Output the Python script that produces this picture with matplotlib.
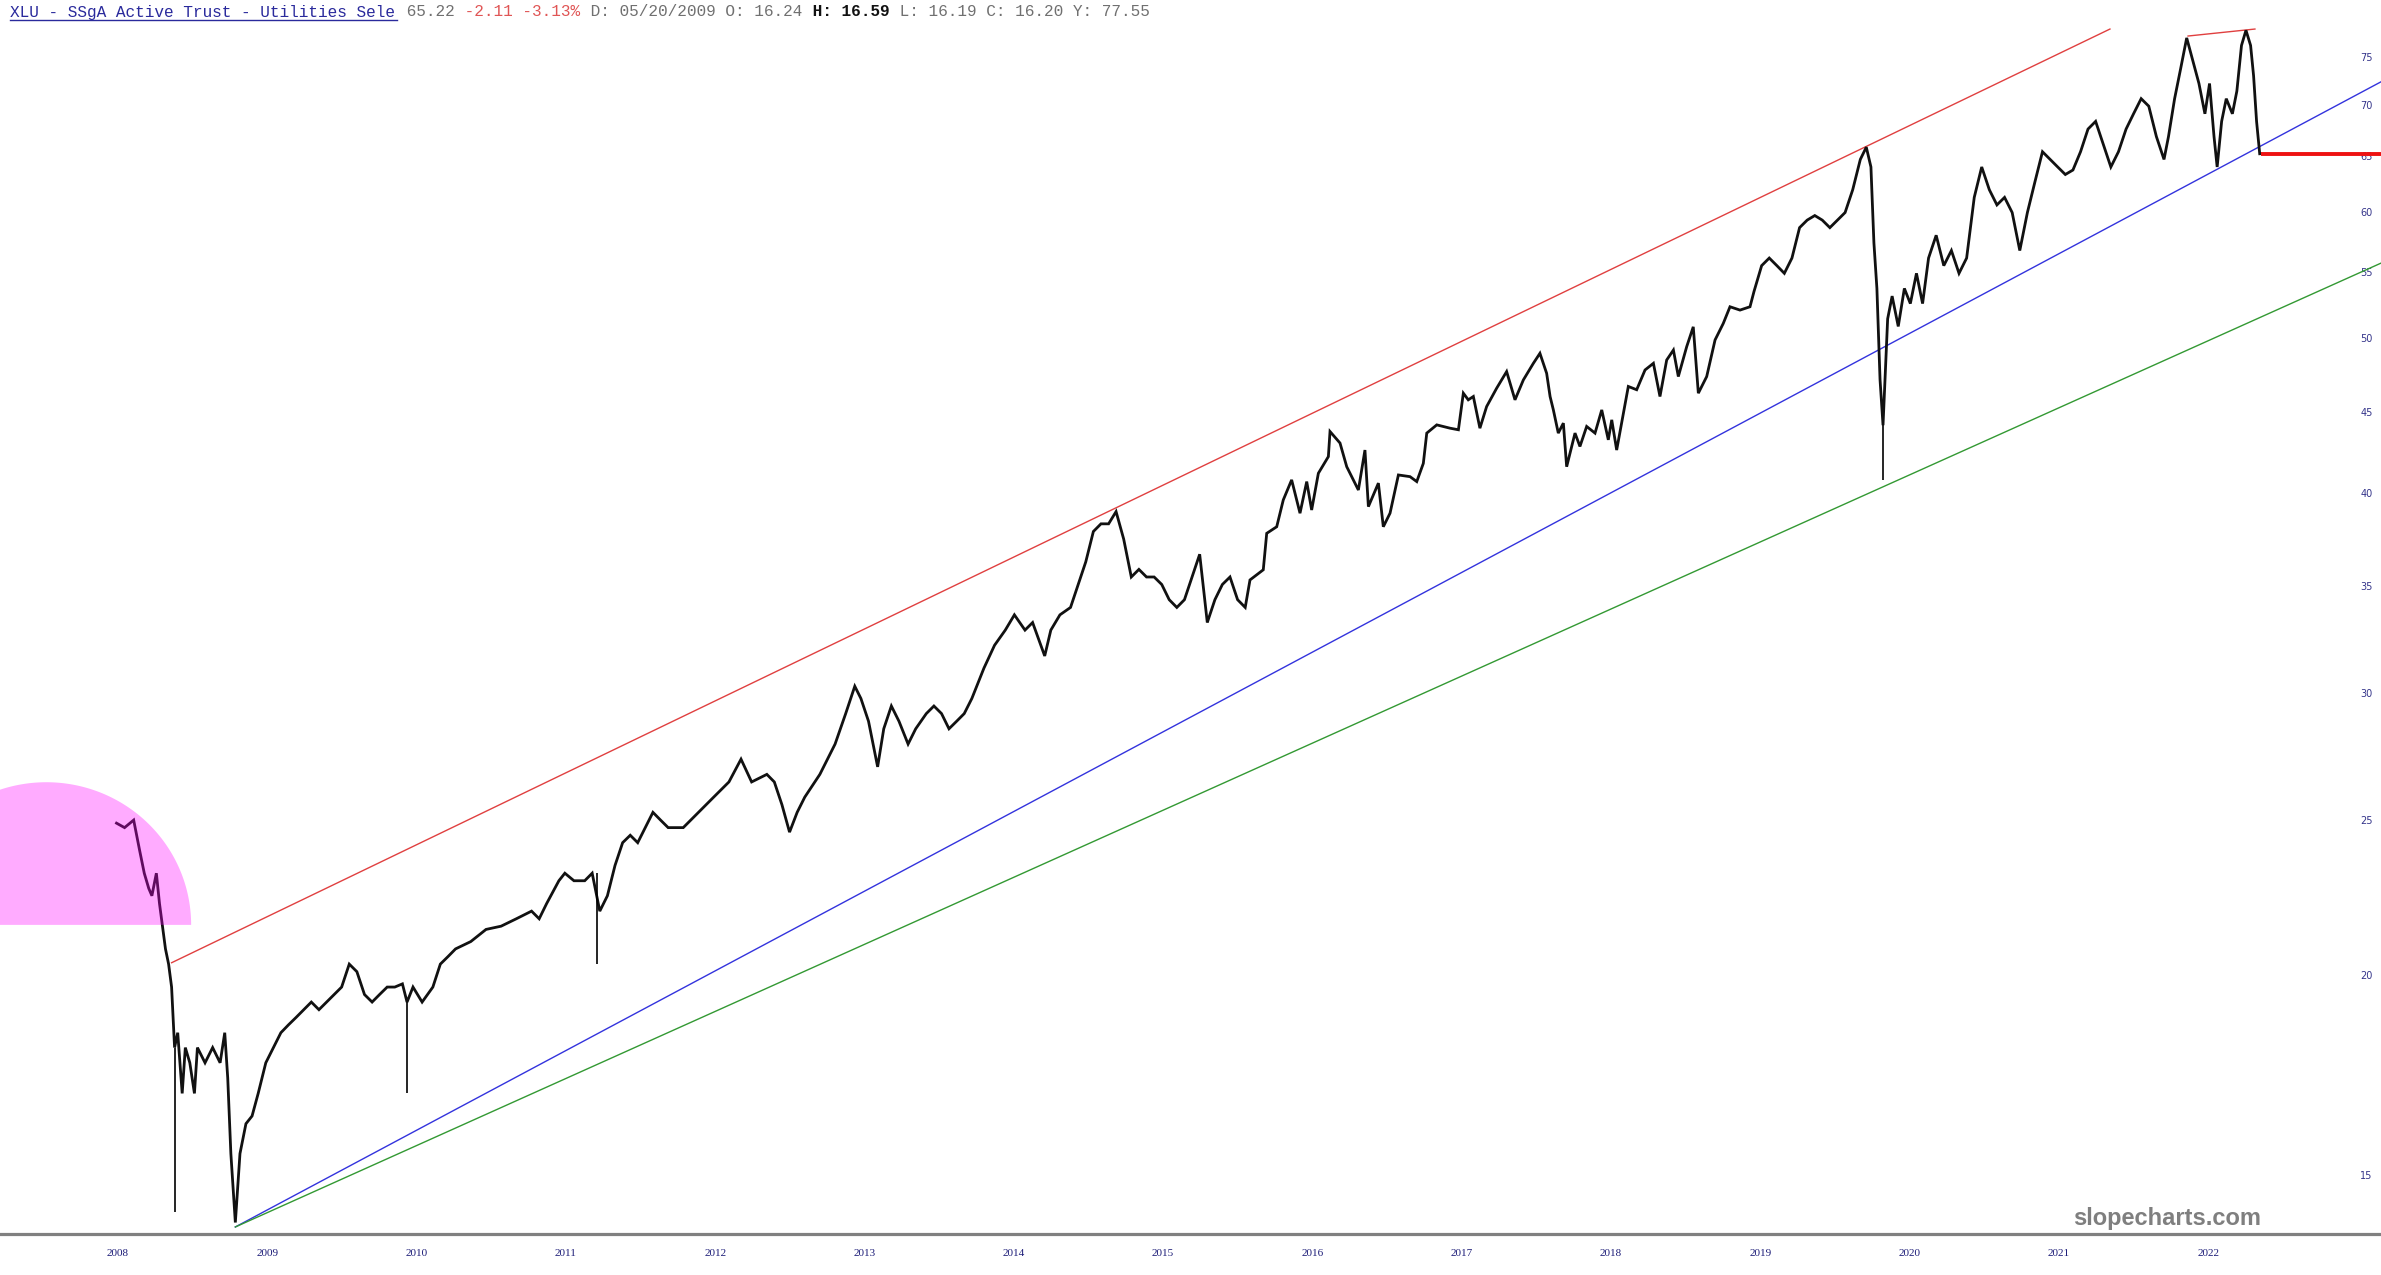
import numpy as np
import matplotlib
matplotlib.use("Agg")
import matplotlib.pyplot as plt
from matplotlib.lines import Line2D

# ---------------- data ----------------
years_2008_2015 = [
    2007.99, 2008.044, 2008.105, 2008.145, 2008.176, 2008.206, 2008.227, 2008.257, 2008.278, 2008.298,
    2008.318, 2008.339, 2008.359, 2008.379, 2008.400, 2008.430, 2008.451, 2008.481, 2008.512, 2008.532,
    2008.583, 2008.634, 2008.684, 2008.715, 2008.735, 2008.756, 2008.786, 2008.817, 2008.857, 2008.898,
    2008.939, 2008.990, 2009.041, 2009.091, 2009.142, 2009.193, 2009.244, 2009.295, 2009.346, 2009.397,
    2009.447, 2009.498, 2009.549, 2009.600, 2009.651, 2009.702, 2009.752, 2009.803, 2009.854, 2009.905,
    2009.936, 2009.976, 2010.037, 2010.109, 2010.159, 2010.210, 2010.261, 2010.363, 2010.465, 2010.566,
    2010.668, 2010.770, 2010.821, 2010.871, 2010.953, 2010.993, 2011.054, 2011.126, 2011.176, 2011.227,
    2011.278, 2011.329, 2011.380, 2011.431, 2011.481, 2011.532, 2011.583, 2011.634, 2011.685, 2011.736,
    2011.786, 2011.888, 2011.990, 2012.092, 2012.173, 2012.244, 2012.346, 2012.396, 2012.447, 2012.498,
    2012.549, 2012.600, 2012.701, 2012.803, 2012.874, 2012.935, 2012.976, 2013.027, 2013.088, 2013.129,
    2013.180, 2013.231, 2013.292, 2013.343, 2013.414, 2013.465, 2013.516, 2013.566, 2013.617, 2013.668,
    2013.719, 2013.800, 2013.871, 2013.943, 2014.004, 2014.075, 2014.126, 2014.207, 2014.248, 2014.309,
    2014.380, 2014.431, 2014.482, 2014.533, 2014.584, 2014.635, 2014.685, 2014.736, 2014.787, 2014.838,
    2014.889, 2014.940, 2014.991, 2015.041, 2015.092, 2015.143, 2015.194, 2015.245, 2015.296, 2015.347,
    2015.397, 2015.448, 2015.499, 2015.550,
]
prices_2008_2015 = [
    24.89, 24.73, 25.00, 23.93, 23.16, 22.66, 22.42, 23.16, 22.17, 21.46,
    20.77, 20.32, 19.66, 18.02, 18.41, 16.87, 18.02, 17.63, 16.87, 18.02,
    17.63, 18.02, 17.63, 18.41, 17.25, 15.47, 14.01, 15.47, 16.15, 16.33,
    16.87, 17.63, 18.02, 18.41, 18.62, 18.82, 19.03, 19.24, 19.03, 19.24,
    19.45, 19.66, 20.32, 20.10, 19.45, 19.24, 19.45, 19.66, 19.66, 19.75,
    19.24, 19.66, 19.24, 19.66, 20.32, 20.54, 20.77, 20.99, 21.36, 21.46,
    21.69, 21.93, 21.69, 22.17, 22.91, 23.16, 22.91, 22.91, 23.16, 21.93,
    22.42, 23.42, 24.20, 24.46, 24.20, 24.73, 25.28, 25.00, 24.73, 24.73,
    24.73, 25.28, 25.84, 26.41, 27.29, 26.41, 26.70, 26.41, 25.56, 24.57,
    25.28, 25.84, 26.70, 27.89, 29.14, 30.31, 29.78, 28.82, 26.99, 28.51,
    29.46, 28.82, 27.89, 28.51, 29.14, 29.46, 29.14, 28.51, 28.82, 29.14,
    29.78, 31.11, 32.15, 32.86, 33.59, 32.86, 33.22, 31.66, 32.86, 33.59,
    33.95, 35.09, 36.25, 37.87, 38.29, 38.29, 38.97, 37.46, 35.47, 35.86,
    35.47, 35.47, 35.09, 34.33, 33.95, 34.33, 35.47, 36.65, 33.22, 34.33,
    35.09, 35.47, 34.33, 33.95,
]
years_2015_2018 = [
    2015.582, 2015.671, 2015.694, 2015.761, 2015.805, 2015.861, 2015.917, 2015.962, 2015.995, 2016.040,
    2016.107, 2016.118, 2016.185, 2016.230, 2016.308, 2016.352, 2016.375, 2016.442, 2016.475, 2016.520,
    2016.576, 2016.654, 2016.699, 2016.743, 2016.766, 2016.833, 2016.922, 2016.978, 2017.011, 2017.044,
    2017.078, 2017.122, 2017.167, 2017.234, 2017.301, 2017.357, 2017.413, 2017.480, 2017.524, 2017.569,
    2017.592, 2017.614, 2017.647, 2017.681, 2017.703, 2017.759, 2017.792, 2017.837, 2017.893, 2017.938,
    2017.982, 2018.005, 2018.038, 2018.083, 2018.116, 2018.172, 2018.228, 2018.284, 2018.328, 2018.373,
    2018.418, 2018.451, 2018.507, 2018.551, 2018.585, 2018.641, 2018.697, 2018.752, 2018.797, 2018.864,
    2018.931, 2018.958,
]
prices_2015_2018 = [
    35.32, 35.84, 37.77, 38.13, 39.63, 40.79, 38.88, 40.69, 39.06, 41.18,
    42.18, 43.73, 43.01, 41.57, 40.20, 42.58, 39.25, 40.60, 38.13, 38.88,
    41.08, 40.98, 40.69, 41.77, 43.63, 44.15, 43.94, 43.84, 46.21, 45.77,
    45.99, 43.94, 45.33, 46.54, 47.67, 45.77, 47.10, 48.24, 48.94, 47.55,
    45.99, 45.11, 43.63, 44.26, 41.57, 43.63, 42.80, 44.05, 43.63, 45.11,
    43.21, 44.47, 42.58, 44.89, 46.66, 46.44, 47.78, 48.24, 45.99, 48.47,
    49.17, 47.33, 49.41, 50.84, 46.21, 47.33, 49.89, 51.09, 52.33, 52.08,
    52.33, 53.50,
]
years_2019_2022 = [
    2019.009, 2019.060, 2019.111, 2019.161, 2019.212, 2019.263, 2019.314, 2019.365, 2019.415,
    2019.466, 2019.517, 2019.568, 2019.619, 2019.670, 2019.710, 2019.741, 2019.761, 2019.781, 2019.802,
    2019.822, 2019.853, 2019.883, 2019.924, 2019.965, 2020.005, 2020.046, 2020.087, 2020.127, 2020.178,
    2020.229, 2020.280, 2020.331, 2020.382, 2020.433, 2020.483, 2020.534, 2020.585, 2020.636, 2020.687,
    2020.738, 2020.789, 2020.839, 2020.890, 2020.941, 2020.992, 2021.043, 2021.094, 2021.145, 2021.195,
    2021.246, 2021.297, 2021.348, 2021.399, 2021.450, 2021.500, 2021.551, 2021.602, 2021.653, 2021.704,
    2021.734, 2021.775, 2021.816, 2021.856, 2021.897, 2021.938, 2021.978, 2022.009, 2022.039, 2022.060,
    2022.090, 2022.121, 2022.162, 2022.192, 2022.223, 2022.253, 2022.284, 2022.304, 2022.324, 2022.345,
]
prices_2019_2022 = [
    55.52, 56.13, 55.52, 54.91, 56.13, 58.64, 59.28, 59.67, 59.28,
    58.64, 59.28, 59.93, 61.93, 64.69, 65.84, 63.99, 57.37, 53.73, 47.12,
    44.13, 51.43, 53.14, 50.87, 53.73, 52.57, 54.91, 52.57, 56.13, 58.00,
    55.52, 56.74, 54.91, 56.13, 61.25, 63.99, 61.93, 60.59, 61.25, 59.93,
    56.74, 59.93, 62.61, 65.41, 64.69, 63.99, 63.30, 63.71, 65.41, 67.58,
    68.33, 66.12, 63.99, 65.41, 67.58, 69.08, 70.60, 69.84, 66.85, 64.69,
    66.85, 70.60, 73.76, 77.05, 74.57, 72.16, 69.08, 72.16, 66.85, 63.99,
    68.33, 70.60, 69.08, 71.38, 76.22, 77.90, 76.22, 72.96, 68.33, 65.22,
]
years = years_2008_2015 + years_2015_2018 + years_2019_2022
prices = prices_2008_2015 + prices_2015_2018 + prices_2019_2022

# single-day wicks (date, low, high)
spike_years = [2008.379, 2009.936, 2011.207, 2019.822]
spike_lows = [14.23, 16.87, 20.32, 40.80]
spike_highs = [18.02, 19.24, 23.16, 44.13]

# trend lines (date, price) pairs
red_years, red_prices = [2008.359, 2021.342], [20.36, 78.04]
red2_years, red2_prices = [2021.865, 2022.313], [77.26, 78.04]
blue_years, blue_prices = [2008.786, 2023.157], [13.92, 72.33]
green_years, green_prices = [2008.786, 2023.157], [13.92, 55.72]
last_price = 65.22
last_year = 2022.354

# highlight semicircle
pink_center_year, pink_base_price = 2007.52, 21.5
pink_right_year, pink_top_price = 2008.49, 26.4

year_ticks = list(range(2008, 2023))
price_ticks = [15, 20, 25, 30, 35, 40, 45, 50, 55, 60, 65, 70, 75]

# ---------------- figure ----------------
W, H = 2381, 1275
fig = plt.figure(figsize=(W / 100, H / 100), dpi=100)
fig.patch.set_facecolor("white")
ax = fig.add_axes([0, 41 / H, 1, (1234 - 27) / H])
ax.set_facecolor("white")
ax.set_yscale("log")
ax.set_xlim(2007.2097, 2023.1574)
ax.set_ylim(13.78, 78.27)

# price
ax.plot(years, prices, color="#111111", lw=2.0, solid_joinstyle="miter", zorder=3)
ax.vlines(spike_years, spike_lows, spike_highs, color="black", lw=1.2, zorder=3)

# trend lines
ax.plot(red_years, red_prices, color="#e04040", lw=1.0, zorder=2)
ax.plot(red2_years, red2_prices, color="#e04040", lw=1.0, zorder=2)
ax.plot(blue_years, blue_prices, color="#3333dd", lw=1.0, zorder=2)
ax.plot(green_years, green_prices, color="#339933", lw=1.0, zorder=2)
ax.plot([last_year, 2023.2], [last_price, last_price], color="#ee1111", lw=2.8,
        zorder=4, solid_capstyle="butt")

# pink semicircle (circle on screen: ellipse in year / log-price space)
theta = np.linspace(0, np.pi, 200)
lc, lt = np.log10(pink_base_price), np.log10(pink_top_price)
px = pink_center_year + (pink_right_year - pink_center_year) * np.cos(theta)
py = 10 ** (lc + (lt - lc) * np.sin(theta))
ax.fill(px, py, color="#ff00ff", alpha=0.33, lw=0, zorder=5)

# axes styling
for s in ["top", "left", "right"]:
    ax.spines[s].set_visible(False)
ax.spines["bottom"].set_color("#808080")
ax.spines["bottom"].set_linewidth(2.3)

ax.set_xticks(year_ticks)
ax.set_xticklabels([str(y) for y in year_ticks], family="Liberation Serif",
                   fontsize=8, color="#1c1c78")
ax.tick_params(axis="x", length=0, pad=11)

ax.yaxis.set_minor_locator(matplotlib.ticker.NullLocator())
ax.set_yticks(price_ticks)
ax.set_yticklabels([str(p) for p in price_ticks], family="DejaVu Sans",
                   fontsize=7, color="#34348a")
ax.yaxis.tick_right()
ax.tick_params(axis="y", which="both", length=0, pad=-15, labelright=True)
ax.yaxis.set_minor_formatter(matplotlib.ticker.NullFormatter())

# watermark
fig.text(2261 / W, 1 - 1218 / H, "slopecharts.com", ha="right", va="center",
         fontsize=17, fontweight="bold", color="#7f7f7f", family="Liberation Sans")

# header
pieces = [
    ("XLU - SSgA Active Trust - Utilities Sele", "#2a2a9c", "normal"),
    (" 65.22", "#707070", "normal"),
    (" -2.11 -3.13%", "#e05555", "normal"),
    (" D: 05/20/2009 O: 16.24", "#707070", "normal"),
    (" H: 16.59", "#111111", "bold"),
    (" L: 16.19 C: 16.20 Y: 77.55", "#707070", "normal"),
]
x0, pitch = 10.5, 9.67
n = 0
for txt, col, wt in pieces:
    fig.text((x0 + n * pitch) / W, 1 - 12 / H, txt, ha="left", va="center",
             fontsize=11.6, family="Liberation Mono", color=col, fontweight=wt)
    n += len(txt)
fig.add_artist(Line2D([10 / W, 397 / W], [1 - 20 / H, 1 - 20 / H],
                      color="#2a2a9c", lw=1.0))

fig.savefig("out.png", dpi=100)
